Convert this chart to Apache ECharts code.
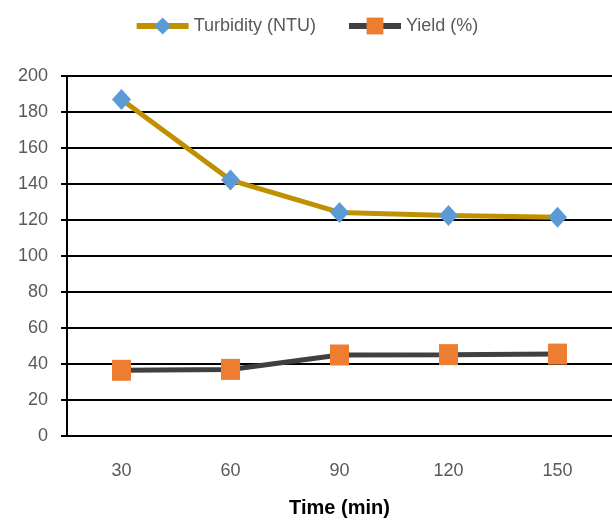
<!DOCTYPE html>
<html>
<head>
<meta charset="utf-8">
<script src="https://cdn.jsdelivr.net/npm/echarts@6/dist/echarts.min.js"></script>
<style>
  html, body { margin: 0; padding: 0; background: #fff; }
  #chart { width: 612px; height: 523px; }
</style>
</head>
<body>
<div id="chart"></div>
<script>
// data
const times = ['30', '60', '90', '120', '150'];
const turbidity = [187, 142.2, 124.2, 122.5, 121.5];
const yieldPct = [36.5, 37, 45, 45.2, 45.5];

const chart = echarts.init(document.getElementById('chart'));

const font = 'Liberation Sans, Arial, sans-serif';

chart.setOption({
  animation: false,
  textStyle: { fontFamily: font },
  legend: {
    top: 12,
    left: 'center',
    itemWidth: 52,
    itemHeight: 21,
    itemGap: 30,
    lineStyle: { width: 6 },
    textStyle: { fontSize: 18, color: '#595959', fontFamily: font },
    data: ['Turbidity (NTU)', 'Yield (%)']
  },
  grid: { left: 67, right: 0, top: 76, bottom: 87 },
  xAxis: {
    type: 'category',
    data: times,
    name: 'Time (min)',
    nameLocation: 'middle',
    nameGap: 62,
    nameTextStyle: { fontSize: 20, fontWeight: 'bold', color: '#000', fontFamily: font },
    axisLine: { lineStyle: { color: '#000', width: 2 } },
    axisTick: { show: false },
    axisLabel: { fontSize: 18, color: '#595959', margin: 26 }
  },
  yAxis: {
    type: 'value',
    min: 0,
    max: 200,
    interval: 20,
    axisLine: { show: true, lineStyle: { color: '#000', width: 2 } },
    axisTick: { show: true, length: 6, lineStyle: { color: '#000', width: 2 } },
    axisLabel: { fontSize: 18, color: '#595959', margin: 19 },
    splitLine: { lineStyle: { color: '#000', width: 2 } }
  },
  series: [
    {
      name: 'Turbidity (NTU)',
      type: 'line',
      data: turbidity,
      symbol: 'diamond',
      symbolSize: [19, 21],
      itemStyle: { color: '#5B9BD5' },
      lineStyle: { color: '#BF9000', width: 5 },
      z: 3
    },
    {
      name: 'Yield (%)',
      type: 'line',
      data: yieldPct,
      symbol: 'rect',
      symbolSize: [19, 21],
      itemStyle: { color: '#ED7D31' },
      lineStyle: { color: '#404040', width: 5 },
      z: 3
    }
  ]
});
</script>
</body>
</html>
